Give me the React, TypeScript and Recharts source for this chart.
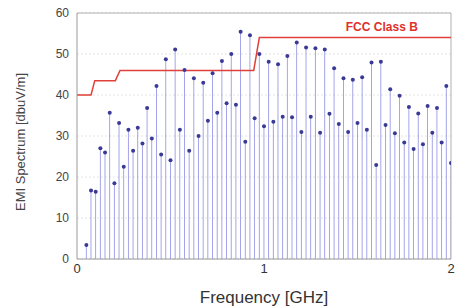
import {
    ComposedChart,
    Bar,
    Scatter,
    Line,
    XAxis,
    YAxis,
    CartesianGrid,
    ReferenceLine,
    ReferenceDot
} from 'recharts';

// harmonic frequencies [GHz]
const freqs = [
    0.05, 0.075, 0.1, 0.125, 0.15, 0.175, 0.2, 0.225, 0.25, 0.275,
    0.3, 0.325, 0.35, 0.375, 0.4, 0.425, 0.45, 0.475, 0.5, 0.525,
    0.55, 0.575, 0.6, 0.625, 0.65, 0.675, 0.7, 0.725, 0.75, 0.775,
    0.8, 0.825, 0.85, 0.875, 0.9, 0.925, 0.95, 0.975, 1.0, 1.025,
    1.05, 1.075, 1.1, 1.125, 1.15, 1.175, 1.2, 1.225, 1.25, 1.275,
    1.3, 1.325, 1.35, 1.375, 1.4, 1.425, 1.45, 1.475, 1.5, 1.525,
    1.55, 1.575, 1.6, 1.625, 1.65, 1.675, 1.7, 1.725, 1.75, 1.775,
    1.8, 1.825, 1.85, 1.875, 1.9, 1.925, 1.95, 1.975, 2.0
];

// EMI level [dbuV/m]
const emi = [
    3.4, 16.7, 16.4, 27.0, 26.0, 35.7, 18.5, 33.2, 22.5, 31.5,
    26.4, 32.0, 28.2, 36.8, 29.4, 42.2, 25.5, 48.7, 24.1, 51.1,
    31.5, 46.1, 26.4, 44.1, 30.0, 43.0, 33.7, 45.3, 35.7, 48.3,
    38.0, 50.0, 37.6, 55.4, 28.6, 54.6, 34.3, 50.0, 32.4, 48.1,
    33.5, 47.5, 34.7, 49.5, 34.6, 52.8, 31.0, 51.6, 34.7, 51.4,
    30.8, 51.1, 35.4, 46.5, 32.9, 44.1, 31.0, 43.7, 33.2, 44.3,
    31.5, 47.9, 22.9, 48.1, 32.7, 41.4, 30.7, 39.8, 28.4, 37.1,
    26.8, 35.5, 28.0, 37.3, 30.8, 36.8, 28.4, 42.2, 23.4
];

// FCC Class B limit line
const limitFreqs = [0, 0.075, 0.095, 0.205, 0.23, 0.945, 0.975, 2.0];
const limitLevels = [40, 40, 43.5, 43.5, 46, 46, 54, 54];

const xTicks = [0, 1, 2];
const yTicks = [0, 10, 20, 30, 40, 50, 60];

const data = freqs.map((f, i) => ({ f, v: emi[i] }));
const limitData = limitFreqs.map((f, i) => ({ f, lim: limitLevels[i] }));

const font = 'Liberation Sans, Arial, sans-serif';

const StemDot = (props: any) => {
    const { cx, cy } = props;
    if (cx == null || cy == null) return null;
    return <circle cx={cx} cy={cy} r={2} fill="#3a3a96" />;
};

export default function App() {
    return (
        <div style={{ position: 'absolute', left: 0, top: 0, background: '#fff' }}>
            <ComposedChart
                width={464}
                height={307}
                data={data}
                margin={{ top: 13, right: 13, left: 0, bottom: 0 }}
                style={{ fontFamily: font }}
            >
                <CartesianGrid
                    vertical={false}
                    stroke="#e4e4e4"
                    strokeDasharray="2 2"
                />
                <XAxis
                    dataKey="f"
                    type="number"
                    domain={[0, 2]}
                    ticks={xTicks}
                    allowDataOverflow
                    height={48}
                    tickSize={4}
                    tickMargin={1}
                    tickLine={false}
                    axisLine={{ stroke: '#9a9a9a' }}
                    tick={{ fontSize: 13, fill: '#333' }}
                    label={{
                        value: 'Frequency [GHz]',
                        position: 'insideBottom',
                        offset: 4,
                        fontSize: 17,
                        fill: '#333'
                    }}
                />
                <YAxis
                    type="number"
                    domain={[0, 60]}
                    ticks={yTicks}
                    width={77}
                    tickLine={false}
                    axisLine={{ stroke: '#9a9a9a' }}
                    tick={{ fontSize: 12, fill: '#444' }}
                    label={{
                        value: 'EMI Spectrum [dbuV/m]',
                        angle: -90,
                        position: 'center',
                        dx: -18,
                        dy: 6,
                        fontSize: 13,
                        fill: '#444'
                    }}
                />
                <ReferenceLine y={60} stroke="#b0b0b0" />
                <ReferenceLine x={2} stroke="#b0b0b0" />
                <Bar
                    dataKey="v"
                    barSize={1}
                    fill="#9494e6"
                    isAnimationActive={false}
                />
                <Scatter
                    dataKey="v"
                    shape={StemDot}
                    isAnimationActive={false}
                />
                <Line
                    data={limitData}
                    dataKey="lim"
                    type="linear"
                    stroke="#e0403a"
                    strokeWidth={1.5}
                    dot={false}
                    isAnimationActive={false}
                />
                <ReferenceDot
                    x={1.63}
                    y={56.6}
                    r={0}
                    fill="none"
                    stroke="none"
                    label={{
                        value: 'FCC Class B',
                        position: 'center',
                        fontSize: 12,
                        fontWeight: 'bold',
                        fill: '#e0302a'
                    }}
                />
            </ComposedChart>
        </div>
    );
}
